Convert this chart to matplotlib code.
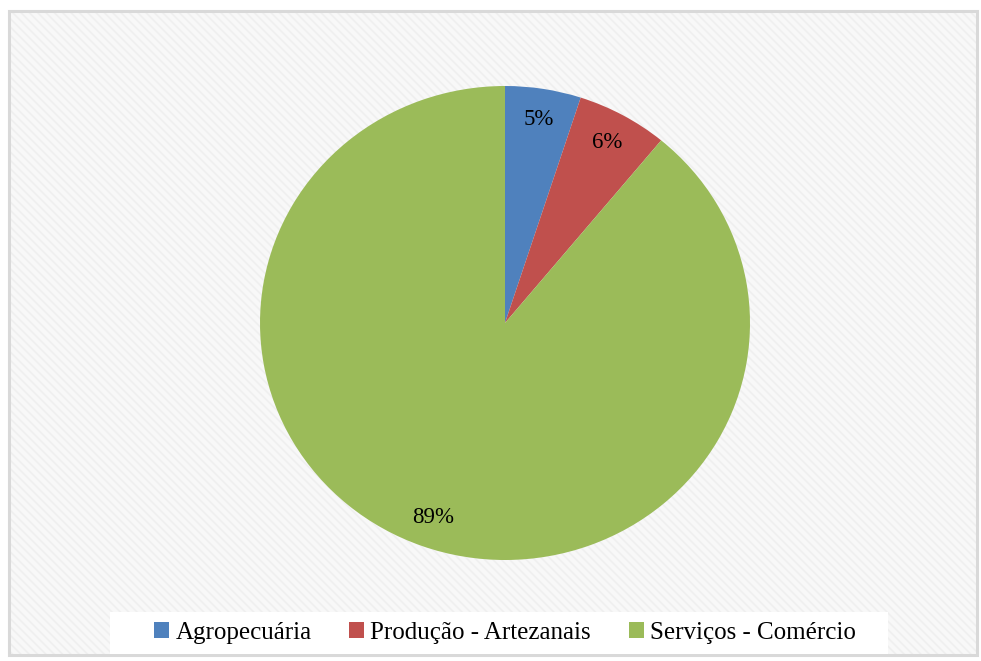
import matplotlib.pyplot as plt
from matplotlib.patches import Rectangle

labels = ["Agropecuária", "Produção - Artezanais", "Serviços - Comércio"]
values = [5, 6, 89]
colors = ["#4F81BD", "#C0504D", "#9BBB59"]

plt.rcParams["font.family"] = ["Liberation Serif", "DejaVu Serif"]
plt.rcParams["hatch.linewidth"] = 1.2

W, H = 981, 661
fig = plt.figure(figsize=(W / 100, H / 100), dpi=100)
fig.patch.set_facecolor("white")

# background frame with diagonal stripes
bg = fig.add_axes([0, 0, 1, 1])
bg.set_xlim(0, W)
bg.set_ylim(H, 0)
bg.axis("off")
bg.add_patch(Rectangle((9, 11), 968, 644, facecolor="#f8f8f8",
                       edgecolor="#efefef", hatch="\\\\\\\\", lw=0))
bg.add_patch(Rectangle((9, 11), 968, 644, facecolor="none",
                       edgecolor="#d9d9d9", lw=2.2))

# pie (slightly wider than tall, like the original)
cx, cy, rx, ry = 505, 323, 245, 237
ax = fig.add_axes([(cx - rx) / W, 1 - (cy + ry) / H, 2 * rx / W, 2 * ry / H])
wedges, _, autotexts = ax.pie(values, colors=colors, startangle=90, counterclock=False,
                              autopct="%d%%", pctdistance=0.87,
                              wedgeprops=dict(linewidth=0),
                              textprops=dict(fontsize=16.5, color="black"))
ax.set_xlim(-1, 1)
ax.set_ylim(-1, 1)
ax.set_aspect("auto")

# legend box
bg.add_patch(Rectangle((110, 612), 778, 42, facecolor="white", edgecolor="none"))
leg = fig.legend(wedges, labels, loc="center", ncol=3,
                 bbox_to_anchor=(505 / W, 1 - 633 / H), frameon=False,
                 fontsize=18, handlelength=0.6, handleheight=0.6,
                 handletextpad=0.25, columnspacing=1.5)

fig.savefig("out.png", dpi=100)
